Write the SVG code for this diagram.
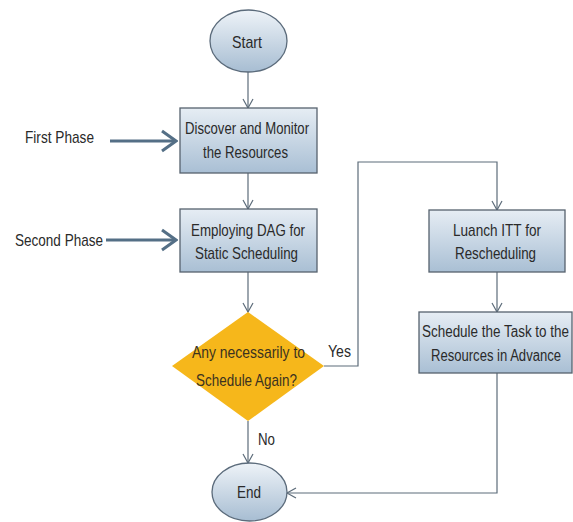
<svg xmlns="http://www.w3.org/2000/svg" width="573" height="522" viewBox="0 0 573 522">
<defs>
<linearGradient id="boxG" x1="0" y1="0" x2="0" y2="1">
<stop offset="0" stop-color="#e6edf4"/>
<stop offset="1" stop-color="#a9bfd4"/>
</linearGradient>
<linearGradient id="ellG" x1="0" y1="0" x2="0" y2="1">
<stop offset="0" stop-color="#eef3f8"/>
<stop offset="1" stop-color="#a7bdd2"/>
</linearGradient>
<marker id="arr" markerWidth="12" markerHeight="12" refX="10" refY="6" orient="auto" markerUnits="userSpaceOnUse">
<path d="M1,1 L10,6 L1,11" fill="none" stroke="#5d6c7a" stroke-width="1.2"/>
</marker>
<marker id="bigArr" markerWidth="18" markerHeight="24" refX="16" refY="12" orient="auto" markerUnits="userSpaceOnUse">
<path d="M2,2 L16,12 L2,22" fill="none" stroke="#546f86" stroke-width="3"/>
</marker>
</defs>
<style>
.box{fill:url(#boxG);stroke:#56626e;stroke-width:1.3}
.ell{fill:url(#ellG);stroke:#5b6b7b;stroke-width:1.3}
.dia{fill:#f6b71b;stroke:none}
.t{font-family:"Liberation Sans Narrow","Liberation Sans",Arial,sans-serif;font-size:17px;fill:#2a2a2a}
.ts{font-size:16px}
.td{font-family:"Liberation Sans Narrow","Liberation Sans",Arial,sans-serif;font-size:17px;fill:#3b3220}
.conn{fill:none;stroke:#5d6c7a;stroke-width:1.2}
.phase{fill:none;stroke:#546f86;stroke-width:3}
</style>
<rect width="573" height="522" fill="#ffffff"/>
<g id="connectors">
<line class="conn" x1="248" y1="72" x2="248" y2="108" marker-end="url(#arr)"/>
<line class="conn" x1="248" y1="173" x2="248" y2="209" marker-end="url(#arr)"/>
<line class="conn" x1="248" y1="272" x2="248" y2="312" marker-end="url(#arr)"/>
<line class="conn" x1="248" y1="421" x2="248" y2="463" marker-end="url(#arr)"/>
<polyline class="conn" points="324,366 358,366 358,162 497,162 497,210" marker-end="url(#arr)"/>
<line class="conn" x1="497" y1="272" x2="497" y2="312" marker-end="url(#arr)"/>
<polyline class="conn" points="497,373 497,493 287,493" marker-end="url(#arr)"/>
<line class="phase" x1="110" y1="141" x2="176" y2="141" marker-end="url(#bigArr)"/>
<line class="phase" x1="106" y1="240" x2="176" y2="240" marker-end="url(#bigArr)"/>
<text class="t" x="328" y="357" textLength="23" lengthAdjust="spacingAndGlyphs">Yes</text>
<text class="t" x="258" y="445" textLength="17" lengthAdjust="spacingAndGlyphs">No</text>
</g>
<g id="first-phase">
<text class="t" x="25" y="143" textLength="69" lengthAdjust="spacingAndGlyphs">First Phase</text>
</g>
<g id="second-phase">
<text class="t" x="15" y="246" textLength="88" lengthAdjust="spacingAndGlyphs">Second Phase</text>
</g>
<g id="start">
<ellipse class="ell" cx="248.5" cy="41" rx="38.5" ry="31"/>
<text class="t" x="232" y="48" textLength="30" lengthAdjust="spacingAndGlyphs">Start</text>
</g>
<g id="discover">
<rect class="box" x="180" y="108" width="137" height="65"/>
<text class="t" x="185" y="134" textLength="124" lengthAdjust="spacingAndGlyphs">Discover and Monitor</text>
<text class="t" x="203" y="158" textLength="85" lengthAdjust="spacingAndGlyphs">the Resources</text>
</g>
<g id="employing">
<rect class="box" x="180" y="209" width="137" height="63"/>
<text class="t" x="191" y="236" textLength="114" lengthAdjust="spacingAndGlyphs">Employing DAG for</text>
<text class="t" x="195" y="259" textLength="103" lengthAdjust="spacingAndGlyphs">Static Scheduling</text>
</g>
<g id="decision">
<polygon class="dia" points="248,312 324,366 248,421 172,366"/>
<text class="td" x="192" y="358" textLength="113" lengthAdjust="spacingAndGlyphs">Any necessarily to</text>
<text class="td" x="196" y="386" textLength="101" lengthAdjust="spacingAndGlyphs">Schedule Again?</text>
</g>
<g id="launch">
<rect class="box" x="429" y="210" width="136" height="62"/>
<text class="t" x="453" y="236" textLength="88" lengthAdjust="spacingAndGlyphs">Luanch ITT for</text>
<text class="t" x="455" y="259" textLength="81" lengthAdjust="spacingAndGlyphs">Rescheduling</text>
</g>
<g id="schedule">
<rect class="box" x="419" y="312" width="153" height="61"/>
<text class="t ts" x="422" y="337" textLength="147" lengthAdjust="spacingAndGlyphs">Schedule the Task to the</text>
<text class="t ts" x="431" y="361" textLength="130" lengthAdjust="spacingAndGlyphs">Resources in Advance</text>
</g>
<g id="end">
<ellipse class="ell" cx="249.5" cy="492" rx="37.5" ry="29"/>
<text class="t" x="237" y="498" textLength="24" lengthAdjust="spacingAndGlyphs">End</text>
</g>
</svg>
